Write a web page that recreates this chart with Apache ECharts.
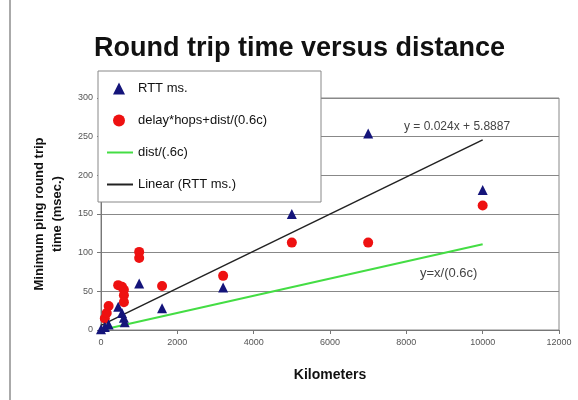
<!DOCTYPE html>
<html><head><meta charset="utf-8">
<script src="https://cdn.jsdelivr.net/npm/echarts@6/dist/echarts.min.js"></script>
<style>html,body{margin:0;padding:0;background:#fff}#c{width:578px;height:400px}</style>
</head><body><div id="c"></div>
<script>
// Data
var rttPoints = [[0,1],[100,4],[200,7],[450,30],[550,22],[600,16],[620,10],[1000,60],[1600,28],[3200,55],[5000,150],[7000,254],[10000,181]];
var delayPoints = [[100,15],[150,22],[200,31],[450,58],[550,56],[600,52],[600,45],[600,36],[1000,101],[1000,93],[1600,57],[3200,70],[5000,113],[7000,113],[10000,161]];
var distLine = [[100,1],[10000,111]];
var linearFit = [[0,5.9],[10000,245.9]];
var xTicks = {min:0, max:12000, interval:2000};
var yTicks = {min:0, max:300, interval:50};
var seriesNames = ['RTT ms.', 'delay*hops+dist/(0.6c)', 'dist/(.6c)', 'Linear (RTT ms.)'];
var titleText = 'Round trip time versus distance';
var eqText = 'y = 0.024x + 5.8887';
var distText = 'y=x/(0.6c)';

var chart = echarts.init(document.getElementById('c'), null, {renderer:'canvas'});
var font = 'Liberation Sans, Arial, sans-serif';
chart.setOption({
  animation:false,
  backgroundColor:'#fff',
  textStyle:{fontFamily:font},
  title:{text:titleText, left:89, top:30, textStyle:{fontSize:27, fontWeight:'bold', color:'#111', fontFamily:font}},
  grid:{left:101, right:19, top:98, bottom:70, show:true, borderColor:'#888', borderWidth:1, backgroundColor:'#fff'},
  xAxis:{type:'value', min:xTicks.min, max:xTicks.max, interval:xTicks.interval,
    name:'Kilometers', nameLocation:'middle', nameGap:38,
    nameTextStyle:{fontSize:14, fontWeight:'bold', color:'#111'},
    axisLine:{show:true, lineStyle:{color:'#777'}}, axisTick:{show:true, length:4, lineStyle:{color:'#777'}},
    axisLabel:{fontSize:9, color:'#555', margin:8, formatter:function(v){return String(v);}}, splitLine:{show:false}},
  yAxis:{type:'value', min:yTicks.min, max:yTicks.max, interval:yTicks.interval,
    name:'Minimum ping round trip\ntime (msec.)', nameLocation:'middle', nameGap:35,
    nameTextStyle:{fontSize:13, fontWeight:'bold', color:'#111', lineHeight:18},
    axisLine:{show:true, lineStyle:{color:'#777'}}, axisTick:{show:true, length:4, lineStyle:{color:'#777'}},
    axisLabel:{fontSize:9, color:'#555', margin:8, formatter:function(v){return String(v);}}, splitLine:{show:true, lineStyle:{color:'#888', width:1.2}}},
  legend:[
    {data:[{name:seriesNames[0], icon:'triangle'},{name:seriesNames[1], icon:'circle'}],
     orient:'vertical', left:113, top:82, itemWidth:12, itemHeight:12, itemGap:19, padding:0, z:10,
     textStyle:{fontSize:13, color:'#111', padding:[0,0,0,8], lineHeight:12}},
    {data:[{name:seriesNames[2], icon:'rect'},{name:seriesNames[3], icon:'rect'}],
     orient:'vertical', left:107, top:146, itemWidth:26, itemHeight:2, itemGap:19, padding:0, z:10,
     textStyle:{fontSize:13, color:'#111', lineHeight:12}}
  ],
  graphic:[
    {type:'rect', shape:{x:98, y:71, width:223, height:131}, style:{fill:'#fff', stroke:'#888', lineWidth:1}, z:5},
    {type:'line', shape:{x1:10, y1:0, x2:10, y2:400}, style:{stroke:'#aaa', lineWidth:2}, z:5},
    {type:'text', left:404, top:121, style:{text:eqText, fill:'#444', font:'12px '+font}, z:6},
    {type:'text', left:420, top:267, style:{text:distText, fill:'#444', font:'13px '+font}, z:6}
  ],
  series:[
    {name:seriesNames[0], type:'scatter', data:rttPoints, symbol:'triangle', symbolSize:10, itemStyle:{color:'#14147a', opacity:1}, z:4},
    {name:seriesNames[1], type:'scatter', data:delayPoints, symbol:'circle', symbolSize:10, itemStyle:{color:'#ee1111', opacity:1}, z:3},
    {name:seriesNames[2], type:'line', data:distLine, symbol:'none', lineStyle:{color:'#44dd44', width:2}, itemStyle:{color:'#44dd44'}, z:2},
    {name:seriesNames[3], type:'line', data:linearFit, symbol:'none', lineStyle:{color:'#222', width:1.5}, itemStyle:{color:'#222'}, z:2}
  ]
});
</script></body></html>
